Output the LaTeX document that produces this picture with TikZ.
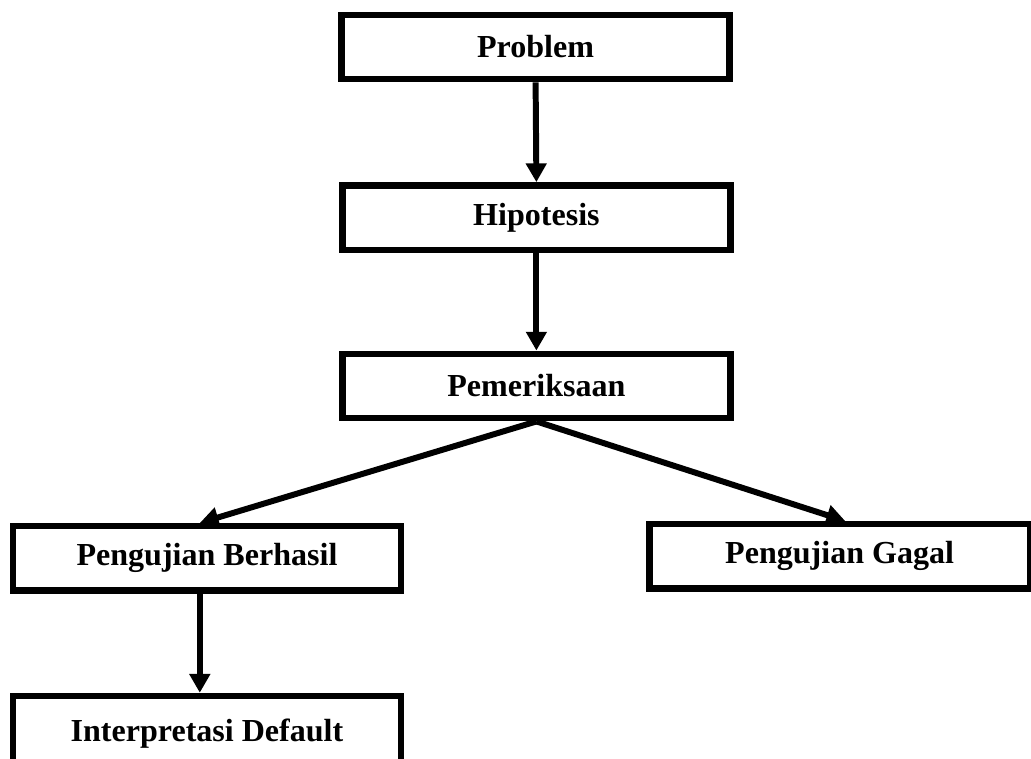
\documentclass[tikz,border=0pt]{standalone}
\usepackage{fontspec}
\setmainfont{Liberation Serif}
\usetikzlibrary{arrows.meta}
\begin{document}
\begin{tikzpicture}[>={Triangle[width=0.5cm,length=0.47cm]},line join=miter,
	font=\fontsize{22.8}{27}\selectfont\bfseries,
	kotak/.style={draw,line width=4.6pt,inner sep=0pt,minimum width=9.7cm,minimum height=1.61cm},
	panah/.style={->,line width=4.25pt}]
	\useasboundingbox (0,0) rectangle (25.775,18.95);
	\clip (0,0) rectangle (25.775,18.95);
	% kotak-kotak
	\node[kotak] (prob) at (13.39,17.775) {Problem};
	\node[kotak] (hip) at (13.41,13.51) {Hipotesis};
	\node[kotak] (pem) at (13.41,9.30) {Pemeriksaan};
	\node[kotak] (berh) at (5.175,4.99) {Pengujian Berhasil};
	\node[kotak,minimum width=9.51cm] (gagal) at (20.99,5.04) {Pengujian Gagal};
	\node[kotak,minimum height=1.9cm] (interp) at (5.175,0.6) {Interpretasi Default};
	% panah
	\draw[panah] (prob.south) -- (hip.north);
	\draw[panah] (hip.south) -- (pem.north);
	\draw[panah] (pem.south) -- ([xshift=-0.18cm]berh.north);
	\draw[panah] (pem.south) -- ([xshift=0.14cm]gagal.north);
	\draw[panah] ([xshift=-0.18cm]berh.south) -- ([xshift=-0.18cm]interp.north);
\end{tikzpicture}
\end{document}
